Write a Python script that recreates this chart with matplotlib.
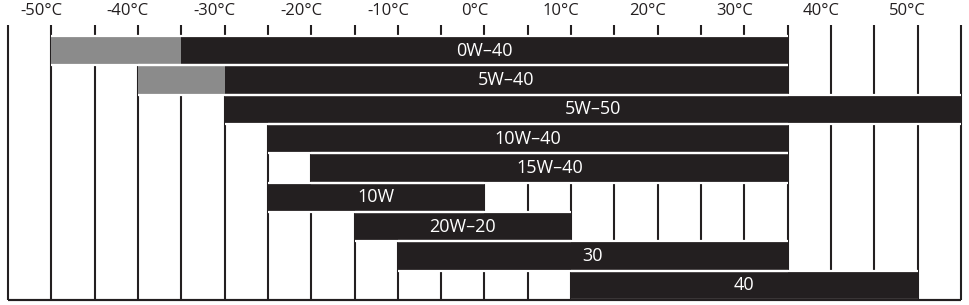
import matplotlib
matplotlib.use('Agg')
import matplotlib.pyplot as plt
import numpy as np

# oil grades and their usable temperature ranges (°C)
grades = ['0W–40', '5W–40', '5W–50', '10W–40', '15W–40', '10W', '20W–20', '30', '40']
low_ext = [-50, -40, None, None, None, None, None, None, None]  # grey extension start
starts = [-35, -30, -30, -25, -20, -25, -15, -10, 10]
ends = [35, 35, 55, 35, 35, 0, 10, 35, 50]

tick_temps = [-50, -40, -30, -20, -10, 0, 10, 20, 30, 40, 50]
tick_labels = [f'{t}°C' for t in tick_temps]

DARK = '#231f20'
GREY = '#8b8b8b'

plt.rcParams['font.family'] = ['Open Sans', 'DejaVu Sans']

fig = plt.figure(figsize=(9.7, 3.05), dpi=100)
ax = fig.add_axes([0, 0, 1, 1])
ax.set_xlim(-55.92, 56.04)
ax.set_ylim(8.671, -1.727)
ax.axis('off')

# grid lines every 5 degrees + frame
grid_x = np.arange(-55, 56, 5)
ax.vlines(grid_x, -0.875, 8.5, color=DARK, lw=1.5, zorder=1)
ax.hlines(8.5, -55, 55, color=DARK, lw=1.5, zorder=1)

for i, g in enumerate(grades):
    left = starts[i]
    if low_ext[i] is not None:
        ax.barh(i, starts[i] - low_ext[i], left=low_ext[i], height=1.0, color=GREY,
                linewidth=0, zorder=2)
        left = low_ext[i]
    ax.barh(i, ends[i] - starts[i], left=starts[i], height=1.0, color=DARK,
            linewidth=0, zorder=2)
    # thin white separators on top/bottom of each bar
    ax.hlines([i - 0.5, i + 0.5], left, ends[i], color='white', lw=1.6, zorder=2.5)
    ax.text((starts[i] + ends[i]) / 2, i, g, color='white', fontsize=13,
            ha='center', va='center', zorder=3)

# bottom frame on top of last bar edge
ax.hlines(8.5, -55, 55, color=DARK, lw=1.5, zorder=2.6)

# temperature labels above the grid (degree sign sits over the line)
for t, lab in zip(tick_temps, tick_labels):
    ax.text(t - 1.15, -1.35, lab, color=DARK, fontsize=12, ha='center', va='center')

fig.savefig('out.png', dpi=100)
